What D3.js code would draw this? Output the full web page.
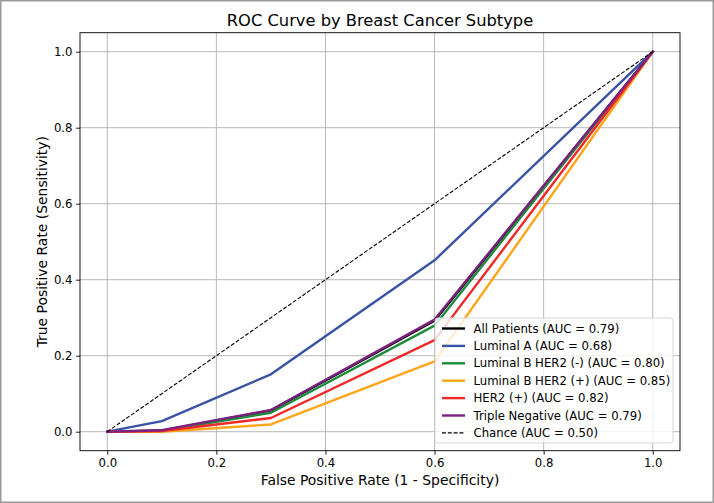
<!DOCTYPE html>
<html>
<head>
<meta charset="utf-8">
<script src="https://cdn.jsdelivr.net/npm/d3@7"></script>
<style>
  body { margin: 0; background: #fff; }
  text { font-family: "DejaVu Sans", sans-serif; fill: #000; }
</style>
</head>
<body>
<div id="vis"></div>
<script>
/********************************************************************
Datos
*********************************************************************/
const fprPoints = [0, 0.1, 0.3, 0.6, 1.0];

const seriesNames = [
    "All Patients (AUC = 0.79)",
    "Luminal A (AUC = 0.68)",
    "Luminal B HER2 (-) (AUC = 0.80)",
    "Luminal B HER2 (+) (AUC = 0.85)",
    "HER2 (+) (AUC = 0.82)",
    "Triple Negative (AUC = 0.79)"
];
const seriesColors = ["#000000", "#3953a4", "#1f8b3b", "#ffa51c", "#f02828", "#7d2181"];

const allPatientsTpr   = [0, 0.003, 0.056, 0.292, 1.0];
const luminalATpr      = [0, 0.028, 0.151, 0.451, 1.0];
const luminalBNegTpr   = [0, 0.002, 0.050, 0.279, 1.0];
const luminalBPosTpr   = [0, 0.000, 0.019, 0.185, 1.0];
const her2Tpr          = [0, 0.002, 0.036, 0.241, 1.0];
const tripleNegTpr     = [0, 0.004, 0.057, 0.295, 1.0];

const seriesValues = [allPatientsTpr, luminalATpr, luminalBNegTpr, luminalBPosTpr, her2Tpr, tripleNegTpr];

const chanceLabel = "Chance (AUC = 0.50)";
const chanceX = [0, 1];
const chanceY = [0, 1];

const tickValues = [0, 0.2, 0.4, 0.6, 0.8, 1.0];

/********************************************************************
Tamaños
*********************************************************************/
const WIDTH = 714;
const HEIGHT = 503;
const margin = { top: 32.7, right: 34, bottom: 52.3, left: 80 };
const width = WIDTH - margin.left - margin.right;
const height = HEIGHT - margin.top - margin.bottom;

const svg = d3.select("#vis")
    .append("svg")
    .attr("width", WIDTH)
    .attr("height", HEIGHT);

// marco gris exterior
svg.append("rect")
    .attr("x", 0.75).attr("y", 0.75)
    .attr("width", WIDTH - 1.5).attr("height", HEIGHT - 1.5)
    .attr("fill", "#fff")
    .attr("stroke", "#9a9a9a")
    .attr("stroke-width", 1.5);

const g = svg.append("g")
    .attr("transform", `translate(${margin.left}, ${margin.top})`);

/********************************************************************
Escalas
*********************************************************************/
const x = d3.scaleLinear().domain([-0.05, 1.05]).range([0, width]);
const y = d3.scaleLinear().domain([-0.05, 1.05]).range([height, 0]);

// grilla
g.append("g")
    .selectAll("line.vgrid")
    .data(tickValues)
    .enter()
    .append("line")
    .attr("x1", d => x(d)).attr("x2", d => x(d))
    .attr("y1", 0).attr("y2", height)
    .attr("stroke", "#b0b0b0")
    .attr("stroke-width", 0.9);

g.append("g")
    .selectAll("line.hgrid")
    .data(tickValues)
    .enter()
    .append("line")
    .attr("x1", 0).attr("x2", width)
    .attr("y1", d => y(d)).attr("y2", d => y(d))
    .attr("stroke", "#b0b0b0")
    .attr("stroke-width", 0.9);

// líneas
const line = d3.line()
    .x(d => x(d[0]))
    .y(d => y(d[1]));

seriesValues.forEach((vals, i) => {
    const pts = fprPoints.map((f, j) => [f, vals[j]]);
    g.append("path")
        .datum(pts)
        .attr("d", line)
        .attr("fill", "none")
        .attr("stroke", seriesColors[i])
        .attr("stroke-width", 2.4)
        .attr("stroke-linejoin", "round")
        .attr("stroke-linecap", "square");
});

g.append("path")
    .datum(chanceX.map((v, j) => [v, chanceY[j]]))
    .attr("d", line)
    .attr("fill", "none")
    .attr("stroke", "#000")
    .attr("stroke-width", 1.1)
    .attr("stroke-dasharray", "4,1.8");

// ejes
const xAxis = g.append("g")
    .attr("transform", `translate(0, ${height})`)
    .call(d3.axisBottom(x).tickValues(tickValues).tickFormat(d3.format(".1f")).tickSizeOuter(0).tickSize(4));
const yAxis = g.append("g")
    .call(d3.axisLeft(y).tickValues(tickValues).tickFormat(d3.format(".1f")).tickSizeOuter(0).tickSize(4));

[xAxis, yAxis].forEach(a => {
    a.select(".domain").remove();
    a.selectAll("line").attr("stroke", "#000").attr("stroke-width", 0.9);
    a.selectAll("text").style("font-size", "11.7px").style("font-family", "DejaVu Sans");
});
xAxis.selectAll("text").attr("dy", "0.71em").attr("y", 8);
yAxis.selectAll("text").attr("x", -7.5);

g.append("rect")
    .attr("width", width).attr("height", height)
    .attr("fill", "none")
    .attr("stroke", "#000")
    .attr("stroke-width", 0.9);

// títulos
svg.append("text")
    .attr("x", margin.left + width / 2)
    .attr("y", 25.5)
    .attr("text-anchor", "middle")
    .style("font-size", "16.3px")
    .text("ROC Curve by Breast Cancer Subtype");

svg.append("text")
    .attr("x", margin.left + width / 2)
    .attr("y", 485)
    .attr("text-anchor", "middle")
    .style("font-size", "13.9px")
    .text("False Positive Rate (1 - Specificity)");

svg.append("text")
    .attr("transform", `translate(47, ${margin.top + height / 2}) rotate(-90)`)
    .attr("text-anchor", "middle")
    .style("font-size", "13.9px")
    .text("True Positive Rate (Sensitivity)");

/********************************************************************
Leyenda
*********************************************************************/
const legendItems = seriesNames.map((n, i) => ({ name: n, color: seriesColors[i], dash: null }))
    .concat([{ name: chanceLabel, color: "#000", dash: "4,1.8" }]);

const legend = svg.append("g")
    .attr("transform", "translate(435, 318)");

legend.append("rect")
    .attr("width", 238).attr("height", 125)
    .attr("rx", 3)
    .attr("fill", "#fff")
    .attr("fill-opacity", 0.8)
    .attr("stroke", "#d6d6d6")
    .attr("stroke-width", 1);

const rows = legend.selectAll("g.item")
    .data(legendItems)
    .enter()
    .append("g")
    .attr("transform", (d, i) => `translate(0, ${10.5 + i * 17.4})`);

rows.append("line")
    .attr("x1", 7).attr("x2", 30)
    .attr("stroke", d => d.color)
    .attr("stroke-width", d => d.dash ? 1.1 : 2.4)
    .attr("stroke-dasharray", d => d.dash);

rows.append("text")
    .attr("x", 38.5)
    .attr("dy", "0.35em")
    .style("font-size", "11.7px")
    .text(d => d.name);
</script>
</body>
</html>
